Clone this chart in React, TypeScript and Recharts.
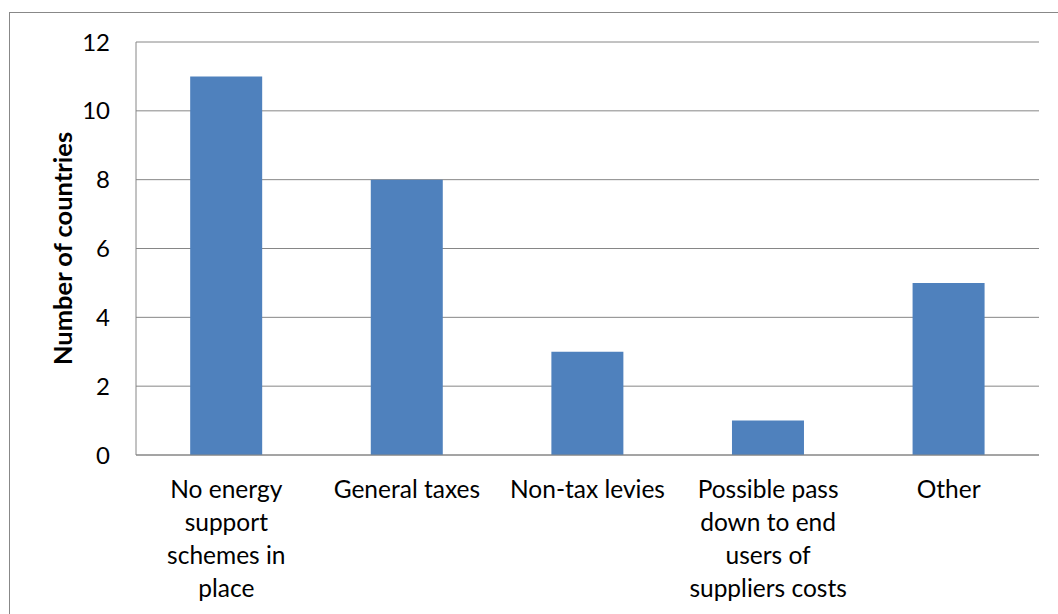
import { Bar, BarChart, CartesianGrid, XAxis, YAxis } from "recharts"

const categories = [
  "No energy\nsupport\nschemes in\nplace",
  "General taxes",
  "Non-tax levies",
  "Possible pass\ndown to end\nusers of\nsuppliers costs",
  "Other",
]
const countries = [11, 8, 3, 1, 5]
const yTicks = [0, 2, 4, 6, 8, 10, 12]

const data = categories.map((name, i) => ({ name, countries: countries[i] }))

const FONT = "Lato, 'Open Sans', sans-serif"

function CategoryTick({ x, y, payload }: any) {
  const lines = String(payload.value).split("\n")
  return (
    <text x={x} y={y} textAnchor="middle" fill="#000" fontSize={24.5} fontFamily={FONT}>
      {lines.map((line, i) => (
        <tspan key={i} x={x} dy={i === 0 ? 35 : 33}>
          {line}
        </tspan>
      ))}
    </text>
  )
}

function AxisTitle({ viewBox }: any) {
  const cy = viewBox.y + viewBox.height / 2
  return (
    <text
      x={62}
      y={cy}
      transform={`rotate(-90, 62, ${cy})`}
      textAnchor="middle"
      dominantBaseline="central"
      fontSize={25.5}
      fontWeight="bold"
      fontFamily={FONT}
      fill="#000"
    >
      Number of countries
    </text>
  )
}

export default function App() {
  return (
    <div
      style={{
        position: "absolute",
        left: 0,
        top: 0,
        width: 1058,
        height: 614,
        overflow: "hidden",
        background: "#fff",
      }}
    >
      <div
        style={{
          position: "absolute",
          left: 9,
          top: 12,
          width: 1100,
          height: 700,
          border: "1px solid #888",
        }}
      />
      <div style={{ position: "absolute", left: 0, top: 0 }}>
        <BarChart
          width={1058}
          height={614}
          data={data}
          margin={{ top: 42, right: 19, bottom: 0, left: 0 }}
          barCategoryGap="30%"
        >
          <CartesianGrid vertical={false} stroke="#868686" strokeWidth={1} />
          <XAxis
            dataKey="name"
            height={159}
            interval={0}
            tickLine={false}
            axisLine={{ stroke: "#868686" }}
            tick={<CategoryTick />}
          />
          <YAxis
            width={136}
            domain={[0, 12]}
            ticks={yTicks}
            interval={0}
            tickLine={false}
            tickMargin={20}
            axisLine={{ stroke: "#868686" }}
            tick={{ fill: "#000", fontSize: 24, fontFamily: FONT }}
            label={<AxisTitle />}
          />
          <Bar dataKey="countries" fill="#4F81BD" isAnimationActive={false} />
        </BarChart>
      </div>
    </div>
  )
}
